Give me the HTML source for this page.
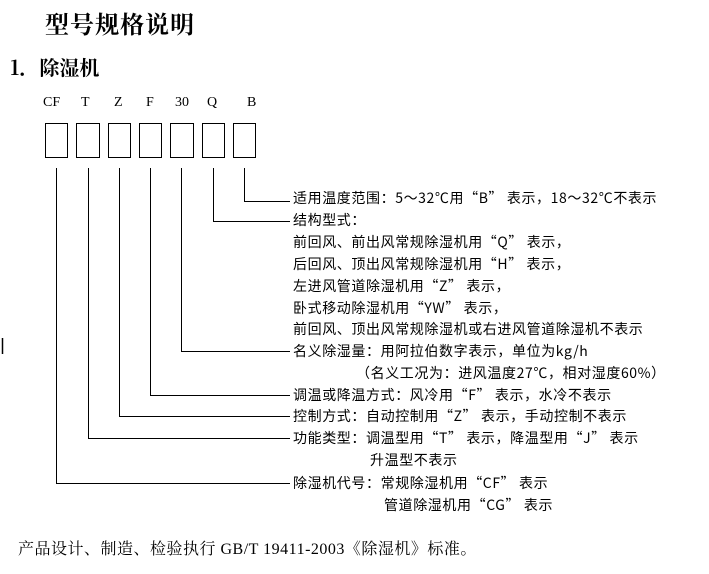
<!DOCTYPE html>
<html><head><meta charset="utf-8"><style>
body{margin:0;width:709px;height:574px;background:#fff;position:relative;overflow:hidden;font-family:"Liberation Serif","Noto Serif CJK SC",serif;color:#000}
.t{position:absolute;white-space:nowrap;line-height:1}
.s{font-family:"Noto Sans CJK SC","WenQuanYi Zen Hei",sans-serif;font-size:14px;letter-spacing:0.6px}
</style></head><body>
<div class="t" style="left:45px;top:11px;font-size:24px;font-weight:bold;letter-spacing:1px;font-family:'Noto Serif CJK SC',serif">型号规格说明</div>
<div class="t" style="left:10px;top:57px;font-size:20px;font-weight:bold;font-family:'Noto Serif CJK SC',serif">1．除湿机</div>
<div class="t" style="left:43px;top:96px;font-size:14px">CF</div>
<div class="t" style="left:81px;top:96px;font-size:14px">T</div>
<div class="t" style="left:114px;top:96px;font-size:14px">Z</div>
<div class="t" style="left:146px;top:96px;font-size:14px">F</div>
<div class="t" style="left:175px;top:96px;font-size:14px">30</div>
<div class="t" style="left:207px;top:96px;font-size:14px">Q</div>
<div class="t" style="left:247px;top:96px;font-size:14px">B</div>
<svg width="709" height="574" style="position:absolute;left:0;top:0" fill="none" stroke="#000" stroke-width="1">
<rect x="45.5" y="123.5" width="22" height="34"/>
<rect x="76.5" y="123.5" width="23" height="34"/>
<rect x="108.5" y="123.5" width="22" height="34"/>
<rect x="139.5" y="123.5" width="22" height="34"/>
<rect x="170.5" y="123.5" width="23" height="34"/>
<rect x="202.5" y="123.5" width="22" height="34"/>
<rect x="233.5" y="123.5" width="22" height="34"/>
<path d="M244.5 168V201.5H290M213.5 168V221.5H290M181.5 168V351.5H290M150.5 168V395.5H290M119.5 168V416.5H290M88.5 168V438.5H290M56.5 168V483.5H290"/>
<path d="M2.5 338V354" stroke-width="1.5"/>
</svg>
<div class="t s" style="left:293px;top:191px">适用温度范围：5～32℃用“B” 表示，18～32℃不表示</div>
<div class="t s" style="left:293px;top:213px">结构型式：</div>
<div class="t s" style="left:293px;top:235px">前回风、前出风常规除湿机用“Q” 表示，</div>
<div class="t s" style="left:293px;top:257px">后回风、顶出风常规除湿机用“H” 表示，</div>
<div class="t s" style="left:293px;top:279px">左进风管道除湿机用“Z” 表示，</div>
<div class="t s" style="left:293px;top:301px">卧式移动除湿机用“YW” 表示，</div>
<div class="t s" style="left:293px;top:322px">前回风、顶出风常规除湿机或右进风管道除湿机不表示</div>
<div class="t s" style="left:293px;top:344px">名义除湿量：用阿拉伯数字表示，单位为kg/h</div>
<div class="t s" style="left:356px;top:366px">（名义工况为：进风温度27℃，相对湿度60%）</div>
<div class="t s" style="left:293px;top:388px">调温或降温方式：风冷用“F” 表示，水冷不表示</div>
<div class="t s" style="left:293px;top:409px">控制方式：自动控制用“Z” 表示，手动控制不表示</div>
<div class="t s" style="left:293px;top:431px">功能类型：调温型用“T” 表示，降温型用“J” 表示</div>
<div class="t s" style="left:370px;top:453px">升温型不表示</div>
<div class="t s" style="left:293px;top:476px">除湿机代号：常规除湿机用“CF” 表示</div>
<div class="t s" style="left:384px;top:498px">管道除湿机用“CG” 表示</div>
<div class="t" style="left:18px;top:542px;font-size:16px;letter-spacing:0.5px">产品设计、制造、检验执行 GB/T 19411-2003《除湿机》标准。</div>
</body></html>
